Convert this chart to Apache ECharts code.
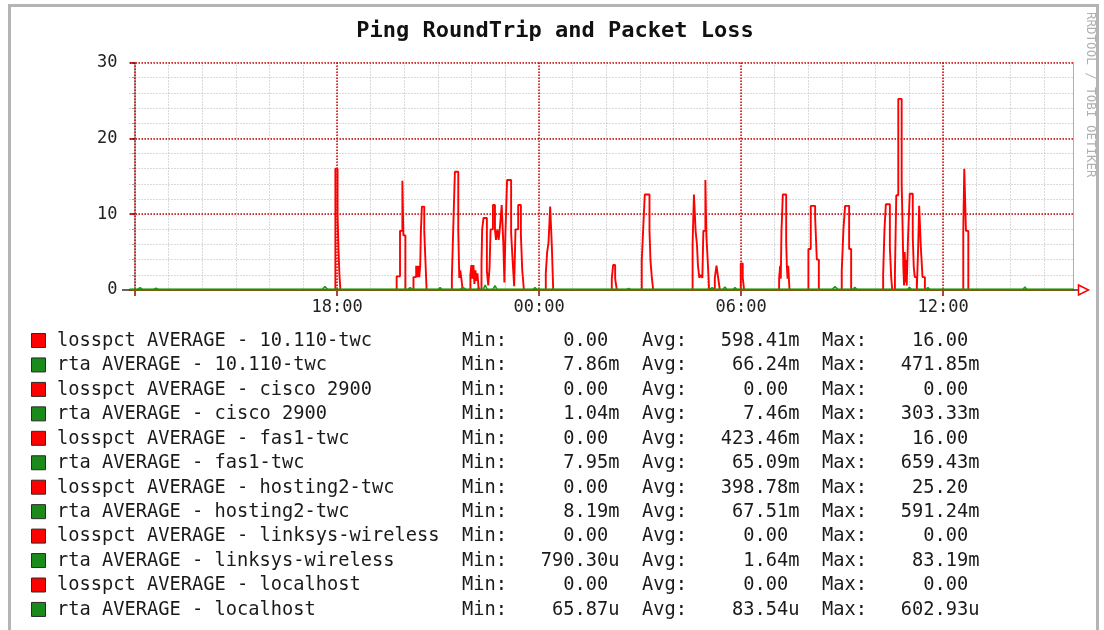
<!DOCTYPE html>
<html><head><meta charset="utf-8">
<script src="https://cdn.jsdelivr.net/npm/echarts@6/dist/echarts.min.js"></script>
<style>html,body{margin:0;padding:0;background:#fff}#c{width:1104px;height:630px}</style>
</head><body><div id="c"></div>
<script>
const MONO = '"DejaVu Sans Mono","Liberation Mono",monospace';
const titleText = 'Ping RoundTrip and Packet Loss';
const watermarkText = 'RRDTOOL / TOBI OETIKER';

// x values: hours since 12:00 of the first day
const xMin = -0.165, xMax = 27.874;
const minorHourTicks = [0,1,2,3,4,5,6,7,8,9,10,11,12,13,14,15,16,17,18,19,20,21,22,23,24,25,26,27];
const majorHourTicks = [0,6,12,18,24];
const labelHourTicks = [6,12,18,24];
const tickLabels = ['18:00','00:00','06:00','12:00'];

const legendNames = ['losspct AVERAGE - 10.110-twc','rta AVERAGE - 10.110-twc','losspct AVERAGE - cisco 2900','rta AVERAGE - cisco 2900','losspct AVERAGE - fas1-twc','rta AVERAGE - fas1-twc','losspct AVERAGE - hosting2-twc','rta AVERAGE - hosting2-twc','losspct AVERAGE - linksys-wireless','rta AVERAGE - linksys-wireless','losspct AVERAGE - localhost','rta AVERAGE - localhost'];
const minVals = ['0.00','7.86m','0.00','1.04m','0.00','7.95m','0.00','8.19m','0.00','790.30u','0.00','65.87u'];
const avgVals = ['598.41m','66.24m','0.00','7.46m','423.46m','65.09m','398.78m','67.51m','0.00','1.64m','0.00','83.54u'];
const maxVals = ['16.00','471.85m','0.00','303.33m','16.00','659.43m','25.20','591.24m','0.00','83.19m','0.00','602.93u'];

const loss_10110 = [[-0.165,0],[5.95,16],[6.015,10],[6.045,5],[6.07,2],[6.10,0],
 [7.77,1.8],[7.87,7.8],[7.94,14.4],[7.97,7.2],[8.03,0],
 [8.27,1.7],[8.35,3.2],[8.38,1.7],[8.41,3.2],[8.44,1.7],[8.47,3.2],[8.49,7.8],[8.52,11],[8.59,7.8],[8.62,4.4],[8.66,0],
 [9.41,1.6],[9.45,8],[9.50,15.6],[9.60,8],[9.63,1.6],[9.66,2.6],[9.69,1.6],[9.73,0],
 [12.20,2.2],[12.24,5],[12.28,6.2],[12.33,11],[12.38,5.7],[12.42,0],
 [14.16,1.5],[14.20,3.3],[14.26,1.5],[14.31,0],
 [15.05,3.8],[15.09,7.8],[15.14,12.6],[15.28,7.8],[15.31,3.8],[15.35,1.6],[15.39,0],
 [27.874,0]];
const rta_10110 = [[-0.165,0.07],[0.08,0.07],[0.15,0.30],[0.22,0.07],[5.56,0.07],[5.64,0.47],[5.72,0.07],[9.66,0.07],[9.74,0.35],[9.82,0.07],[14.60,0.07],[14.66,0.2],[14.72,0.07],[17.08,0.07],[17.14,0.30],[17.20,0.07],[20.70,0.07],[20.79,0.45],[20.88,0.07],[27.874,0.07]];
const loss_cisco = [[-0.165,0],[27.874,0]];
const rta_cisco = [[-0.165,0.007],[10.15,0.007],[10.20,0.30],[10.25,0.007],[17.66,0.007],[17.70,0.20],[17.74,0.007],[27.874,0.007]];
const loss_fas1 = [[-0.165,0],
 [9.96,2],[9.99,3.3],[10.02,1.5],[10.05,3.3],[10.08,0.8],[10.11,2.6],[10.14,1.2],[10.17,2.2],[10.20,0.4],[10.23,0],
 [10.29,3.5],[10.31,8],[10.35,9.5],[10.45,2.5],[10.49,0.6],[10.53,3],[10.56,8],[10.63,11.2],[10.69,8],[10.72,6.6],[10.76,8],[10.80,6.6],[10.84,8.4],[10.89,11.2],[10.94,6],[10.97,1],[11.00,7.3],[11.05,14.5],[11.17,7.5],[11.22,3.5],[11.26,0.5],[11.30,8],[11.38,11.2],[11.46,7.3],[11.50,2.6],[11.55,0],
 [16.56,6],[16.60,12.6],[16.65,7.8],[16.69,6],[16.72,3.2],[16.76,1.6],[16.80,2],[16.85,1.6],[16.88,7.8],[16.94,14.5],[16.97,7.1],[17.02,3],[17.05,0],
 [17.22,1.6],[17.27,3.2],[17.32,1.6],[17.37,0],
 [17.99,3.5],[18.05,1.6],[18.09,0],
 [19.13,1.5],[19.16,3.2],[19.18,1.5],[19.20,7.8],[19.24,12.6],[19.34,6.3],[19.36,3.2],[19.38,1.5],[19.40,3.2],[19.42,1.5],[19.44,0],
 [20.00,5.4],[20.07,11.1],[20.20,9.6],[20.25,4],[20.31,0],
 [20.99,2.5],[21.04,8],[21.09,11.1],[21.21,5.4],[21.27,0],
 [24.60,7.8],[24.63,16],[24.68,7.8],[24.75,0],
 [27.874,0]];
const rta_fas1 = [[-0.165,0.065],[0.55,0.065],[0.62,0.25],[0.69,0.065],[8.10,0.065],[8.17,0.30],[8.24,0.065],[10.34,0.065],[10.40,0.66],[10.46,0.065],[17.46,0.065],[17.52,0.40],[17.58,0.065],[22.94,0.065],[23.00,0.35],[23.06,0.065],[27.874,0.065]];
const loss_hosting2 = [[-0.165,0],
 [22.22,2],[22.26,8],[22.30,11.3],[22.42,5.6],[22.46,1.6],[22.49,0],
 [22.57,2.1],[22.61,12.5],[22.67,25.2],[22.77,14.2],[22.80,7.8],[22.82,3],[22.84,0.6],[22.86,5],[22.88,1],[22.90,4],[22.92,0.6],
 [22.96,7],[23.01,12.7],[23.10,7],[23.13,3],[23.16,1.7],[23.22,0],
 [23.26,5.6],[23.29,11.1],[23.34,5.6],[23.39,1.7],[23.46,0],
 [27.874,0]];
const rta_hosting2 = [[-0.165,0.068],[9.00,0.068],[9.06,0.30],[9.12,0.068],[10.63,0.068],[10.69,0.59],[10.75,0.068],[11.82,0.068],[11.88,0.30],[11.94,0.068],[17.76,0.068],[17.82,0.30],[17.88,0.068],[21.32,0.068],[21.38,0.35],[21.44,0.068],[23.49,0.068],[23.55,0.30],[23.61,0.068],[26.37,0.068],[26.43,0.40],[26.49,0.068],[27.874,0.068]];
const loss_linksys = [[-0.165,0],[27.874,0]];
const rta_linksys = [[-0.165,0.0016],[12.50,0.0016],[12.55,0.083],[12.60,0.0016],[27.874,0.0016]];
const loss_localhost = [[-0.165,0],[27.874,0]];
const rta_localhost = [[-0.165,0.00008],[27.874,0.00008]];

const seriesData = [loss_10110, rta_10110, loss_cisco, rta_cisco, loss_fas1, rta_fas1, loss_hosting2, rta_hosting2, loss_linksys, rta_linksys, loss_localhost, rta_localhost];

const LOSS = '#ff0000', RTA = '#14a014';

function field(v){
  const last = v.slice(-1);
  let num = v, suf = ' ';
  if (/[a-z]/i.test(last)) { num = v.slice(0,-1); suf = last; }
  return num.padStart(9) + suf;
}
function rowText(i){
  return legendNames[i].padEnd(36) + 'Min:' + field(minVals[i]) + '  ' + 'Avg:' + field(avgVals[i]) + '  ' + 'Max:' + field(maxVals[i]);
}

const chart = echarts.init(document.getElementById('c'), null, {renderer:'canvas'});

const series = seriesData.map((d,i)=>({
  name: legendNames[i], type:'line', data:d, xAxisIndex:0, yAxisIndex:0,
  step: i%2===0 ? 'end' : false, symbol:'none', showSymbol:false, silent:true,
  lineStyle:{color: i%2===0 ? LOSS : RTA, width: i%2===0 ? 1.9 : 1.6},
  itemStyle:{color: i%2===0 ? LOSS : RTA}, z:5, animation:false
}));

const graphics = [];
graphics.push({type:'rect', shape:{x:9.5,y:5.5,width:1088,height:640}, style:{fill:'none', stroke:'#b4b4b4', lineWidth:3}, z:0});
graphics.push({type:'text', x:555, y:31, style:{text:titleText, font:'bold 22px '+MONO, fill:'#111', align:'center', verticalAlign:'middle'}});
graphics.push({type:'text', x:1090, y:12, rotation:-Math.PI/2, style:{text:watermarkText, font:'12.5px '+MONO, fill:'#b0b0b0', align:'left', verticalAlign:'middle'}});
legendNames.forEach((n,i)=>{
  const y = 341 + i*24.45;
  graphics.push({type:'rect', shape:{x:31.5,y:y-7.5,width:14,height:14}, style:{fill: i%2 ? '#1a8a1a' : '#ff0000', stroke:'#2a2a2a', lineWidth:1}});
  graphics.push({type:'text', x:57, y:y, style:{text: rowText(i), font:'18.7px '+MONO, fill:'#1a1a1a', align:'left', verticalAlign:'middle'}});
});

const option = {
  backgroundColor:'#ffffff',
  animation:false,
  grid:{left:129.5, right:30.5, top:62.5, bottom:340, containLabel:false},
  xAxis:[
    {type:'value', min:xMin, max:xMax, position:'bottom', z:1,
     axisLine:{show:false}, axisLabel:{show:false},
     axisTick:{show:false, customValues:minorHourTicks},
     splitLine:{show:true, lineStyle:{color:'#b4b4b4', width:1, type:[1,2]}}},
    {type:'value', min:xMin, max:xMax, position:'bottom', z:2,
     axisLine:{show:true, onZero:false, lineStyle:{color:'#333', width:1.5}},
     axisTick:{show:true, customValues:majorHourTicks, length:6, lineStyle:{color:'#a00000', width:1.5}},
     axisLabel:{show:true, customValues:labelHourTicks, margin:9, fontFamily:MONO, fontSize:17, color:'#222',
       formatter:(v)=>{const k = labelHourTicks.indexOf(Math.round(v)); return k>=0 ? tickLabels[k] : '';}},
     splitLine:{show:true, lineStyle:{color:'#d20000', width:1.5, type:[1.5,1.5]}}}
  ],
  yAxis:[
    {type:'value', min:0, max:30, interval:2, position:'left', z:1,
     axisLine:{show:true, lineStyle:{color:'#9a9a9a', width:1.5}},
     axisTick:{show:true, length:3, lineStyle:{color:'#9a9a9a'}},
     axisLabel:{show:false},
     splitLine:{show:true, lineStyle:{color:'#b4b4b4', width:1, type:[1,2]}}},
    {type:'value', min:0, max:30, interval:10, position:'left', z:2,
     axisLine:{show:false},
     axisTick:{show:true, length:5, lineStyle:{color:'#a00000', width:1.5}},
     axisLabel:{show:true, margin:12, fontFamily:MONO, fontSize:17, color:'#222'},
     splitLine:{show:true, lineStyle:{color:'#d20000', width:1.5, type:[1.5,1.5]}}},
    {type:'value', min:0, max:30, position:'right', z:1,
     axisLine:{show:true, lineStyle:{color:'#b0b0b0', width:1}},
     axisTick:{show:false}, axisLabel:{show:false}, splitLine:{show:false}}
  ],
  series: series,
  graphic: graphics
};
chart.setOption(option);

// arrow at the end of the time axis
const end = chart.convertToPixel({xAxisIndex:0, yAxisIndex:0}, [xMax, 0]);
chart.setOption({graphic: graphics.concat([
  {type:'line', shape:{x1:end[0], y1:end[1], x2:end[0]+6, y2:end[1]}, style:{stroke:'#333', lineWidth:1.5}, z:10},
  {type:'line', shape:{x1:122, y1:end[1], x2:129.5, y2:end[1]}, style:{stroke:'#333', lineWidth:1.5}, z:10},
  {type:'polygon', shape:{points:[[end[0]+5,end[1]-5],[end[0]+15,end[1]],[end[0]+5,end[1]+5]]}, style:{fill:'#fff', stroke:'#ff0000', lineWidth:1.5}, z:10}
])});
</script></body></html>
